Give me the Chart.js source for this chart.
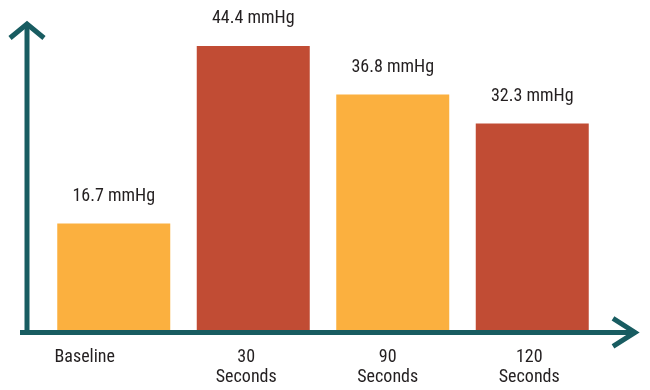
<!DOCTYPE html>
<html>
<head>
<meta charset="utf-8">
<script src="https://cdn.jsdelivr.net/npm/chart.js@4"></script>
<style>
  html, body { margin: 0; padding: 0; background: #fff; }
  #wrap { width: 650px; height: 390px; position: relative; }
</style>
</head>
<body>
<div id="wrap"><canvas id="chart"></canvas></div>
<script>
// Chart data
const categories = [['Baseline'], ['30', 'Seconds'], ['90', 'Seconds'], ['120', 'Seconds']];
const pressures = [16.7, 44.4, 36.8, 32.3];
const unit = 'mmHg';
const barColors = ['#FBB03F', '#C14C34', '#FBB03F', '#C14C34'];

const AXIS = '#185C61';
const TEXT = '#231F20';
const FONT = '"Roboto Condensed", "Liberation Sans", Arial, sans-serif';
// the category labels in the original sit a little left of their bars
const labelShift = [-29, -7, -5, -3];

// Draws the arrow axes, the category labels and the value labels
const decorations = {
  id: 'decorations',
  afterDatasetsDraw(chart) {
    const { ctx, chartArea } = chart;
    const bottom = chartArea.bottom + 2;
    ctx.save();
    ctx.strokeStyle = AXIS;
    ctx.lineWidth = 5;
    ctx.lineCap = 'butt';
    ctx.lineJoin = 'miter';

    // vertical axis
    ctx.beginPath();
    ctx.moveTo(27, bottom + 2.5);
    ctx.lineTo(27, 24);
    ctx.stroke();
    ctx.beginPath();
    ctx.moveTo(10, 38);
    ctx.lineTo(27, 24);
    ctx.lineTo(44, 38);
    ctx.stroke();

    // horizontal axis
    ctx.beginPath();
    ctx.moveTo(20, bottom);
    ctx.lineTo(635, bottom);
    ctx.stroke();
    ctx.beginPath();
    ctx.moveTo(613, bottom - 14);
    ctx.lineTo(635, bottom);
    ctx.lineTo(613, bottom + 14);
    ctx.stroke();

    ctx.fillStyle = TEXT;
    ctx.font = '18px ' + FONT;
    ctx.textAlign = 'center';
    ctx.textBaseline = 'middle';

    // category labels under the axis
    const xScale = chart.scales.x;
    categories.forEach((lines, i) => {
      const x = xScale.getPixelForValue(i) + labelShift[i];
      lines.forEach((line, j) => {
        ctx.fillText(line, x, bottom + 25 + j * 20);
      });
    });

    // value labels
    chart.getDatasetMeta(0).data.forEach((bar, i) => {
      ctx.fillText(pressures[i].toFixed(1) + ' ' + unit, bar.x, bar.y - 27);
    });
    ctx.restore();
  }
};

new Chart(document.getElementById('chart'), {
  type: 'bar',
  data: {
    labels: categories,
    datasets: [{
      data: pressures,
      backgroundColor: barColors,
      borderWidth: 0,
      categoryPercentage: 1,
      barPercentage: 0.81,
    }],
  },
  options: {
    responsive: true,
    maintainAspectRatio: false,
    animation: false,
    layout: { padding: { left: 44, right: 48, top: 10, bottom: -12 } },
    plugins: { legend: { display: false }, tooltip: { enabled: false } },
    scales: {
      x: {
        grid: { display: false, drawTicks: false },
        border: { display: false },
        ticks: {
          // keeps the space for the labels; the plugin paints them
          color: 'rgba(0,0,0,0)',
          font: { family: FONT, size: 18, lineHeight: 1.1 },
          padding: 16,
          maxRotation: 0,
        },
      },
      y: {
        display: false,
        min: 0,
        max: 50,
      },
    },
  },
  plugins: [decorations],
});
</script>
</body>
</html>
